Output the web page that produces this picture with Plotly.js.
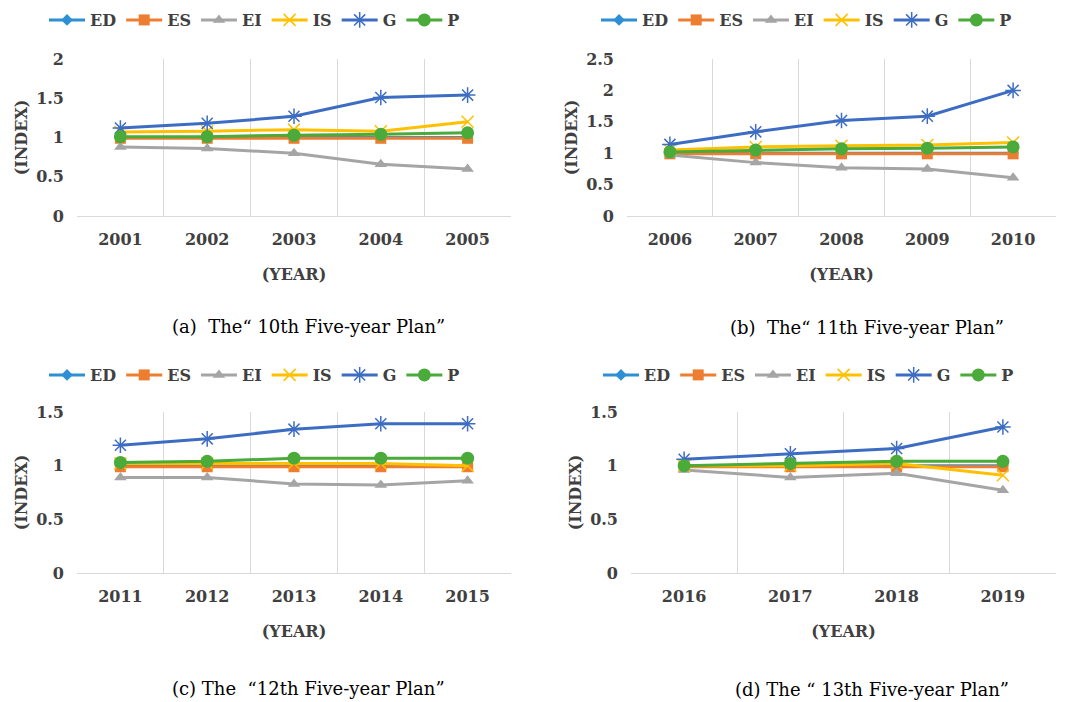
<!DOCTYPE html>
<html>
<head>
<meta charset="utf-8">
<script src="https://cdn.plot.ly/plotly-3.0.1.min.js"></script>
<style>html,body{margin:0;padding:0;background:#fff;}#chart{width:1067px;height:702px;}</style>
</head>
<body>
<div id="chart"></div>
<script>
// ---- data ----
const seriesNames = ["ED", "ES", "EI", "IS", "G", "P"];

const yearsA = ["2001", "2002", "2003", "2004", "2005"];
const ED_A = [1.0, 1.0, 1.0, 1.0, 1.0];
const ES_A = [0.99, 0.99, 0.99, 0.99, 0.99];
const EI_A = [0.88, 0.86, 0.80, 0.66, 0.60];
const IS_A = [1.07, 1.08, 1.10, 1.08, 1.20];
const G_A  = [1.12, 1.18, 1.27, 1.51, 1.54];
const P_A  = [1.01, 1.01, 1.03, 1.04, 1.06];

const yearsB = ["2006", "2007", "2008", "2009", "2010"];
const ED_B = [1.0, 1.0, 1.0, 1.0, 1.0];
const ES_B = [0.99, 0.99, 0.99, 0.99, 0.99];
const EI_B = [0.97, 0.85, 0.77, 0.75, 0.61];
const IS_B = [1.05, 1.10, 1.12, 1.13, 1.17];
const G_B  = [1.14, 1.34, 1.52, 1.59, 2.00];
const P_B  = [1.02, 1.05, 1.07, 1.08, 1.10];

const yearsC = ["2011", "2012", "2013", "2014", "2015"];
const ED_C = [1.0, 1.0, 1.0, 1.0, 1.0];
const ES_C = [0.99, 0.99, 0.99, 0.99, 0.99];
const EI_C = [0.89, 0.89, 0.83, 0.82, 0.86];
const IS_C = [1.02, 1.02, 1.02, 1.02, 1.00];
const G_C  = [1.19, 1.25, 1.34, 1.39, 1.39];
const P_C  = [1.03, 1.04, 1.07, 1.07, 1.07];

const yearsD = ["2016", "2017", "2018", "2019"];
const ED_D = [1.0, 1.0, 1.0, 1.0];
const ES_D = [0.99, 0.99, 0.99, 0.99];
const EI_D = [0.96, 0.89, 0.93, 0.77];
const IS_D = [1.00, 1.00, 1.02, 0.91];
const G_D  = [1.06, 1.11, 1.16, 1.36];
const P_D  = [1.00, 1.02, 1.04, 1.04];

const captions = [
  "(a)  The\u201C 10th Five-year Plan\u201D",
  "(b)  The\u201C 11th Five-year Plan\u201D",
  "(c) The  \u201C12th Five-year Plan\u201D",
  "(d) The \u201C 13th Five-year Plan\u201D"
];
const yMax = [2, 2.5, 1.5, 1.5];

// ---- styles ----
const colors = {ED: "#2E90D3", ES: "#ED7D31", EI: "#A5A5A5", IS: "#FFC000", G: "#3D6DC2", P: "#4AAA3A"};
const symbols = {ED: "diamond", ES: "square", EI: "triangle-up", IS: "x-thin-open", G: "asterisk-open", P: "circle"};
const msize = {ED: 9, ES: 11, EI: 11, IS: 12, G: 13, P: 13};

const panels = [
  {years: yearsA, vals: [ED_A, ES_A, EI_A, IS_A, G_A, P_A]},
  {years: yearsB, vals: [ED_B, ES_B, EI_B, IS_B, G_B, P_B]},
  {years: yearsC, vals: [ED_C, ES_C, EI_C, IS_C, G_C, P_C]},
  {years: yearsD, vals: [ED_D, ES_D, EI_D, IS_D, G_D, P_D]}
];

const W = 1067, H = 702;
const boxes = [
  [77, 511, 59, 216],
  [627, 1056, 59, 216],
  [77, 511, 412, 573],
  [631, 1056, 412, 573]
];
const legendPos = [[44, 20], [596, 20], [44, 375], [598, 375]];
const captionPos = [[308, 326], [867, 327], [308, 688], [872, 689]];

const serif = "DejaVu Serif";
const labelFont = {family: serif, size: 16, color: "#404040", weight: "bold"};

const traces = [];
const layout = {
  width: W, height: H,
  margin: {l: 0, r: 0, t: 0, b: 0},
  paper_bgcolor: "#fff", plot_bgcolor: "#fff",
  showlegend: true,
  font: {family: serif},
  annotations: []
};

panels.forEach((p, i) => {
  const n = i + 1;
  const xa = n === 1 ? "x" : "x" + n;
  const ya = n === 1 ? "y" : "y" + n;
  const lg = n === 1 ? "legend" : "legend" + n;
  seriesNames.forEach((s, k) => {
    traces.push({
      type: "scatter", mode: "lines+markers",
      name: s, x: p.years, y: p.vals[k],
      xaxis: xa, yaxis: ya, legend: lg,
      line: {color: colors[s], width: 3},
      marker: {symbol: symbols[s], size: msize[s], color: colors[s],
               line: {color: colors[s], width: (s === "IS" || s === "G") ? 1.5 : 0}},
      cliponaxis: false
    });
  });
  const b = boxes[i];
  layout["xaxis" + (n === 1 ? "" : n)] = {
    domain: [b[0] / W, b[1] / W],
    anchor: ya,
    type: "category",
    range: [-0.5, p.years.length - 0.5],
    tickson: "boundaries",
    showgrid: true, gridcolor: "#D9D9D9", gridwidth: 1,
    showline: true, linecolor: "#D9D9D9", linewidth: 1,
    ticks: "", ticklabelstandoff: 9,
    tickfont: labelFont,
    zeroline: false, fixedrange: true,
    title: {text: "(YEAR)", font: labelFont, standoff: 20}
  };
  layout["yaxis" + (n === 1 ? "" : n)] = {
    domain: [1 - b[3] / H, 1 - b[2] / H],
    anchor: xa,
    range: [0, yMax[i]],
    dtick: 0.5, tick0: 0,
    showgrid: false, zeroline: false, showline: false,
    ticks: "", ticklabelstandoff: 12,
    tickfont: labelFont,
    fixedrange: true,
    title: {text: "(INDEX)", font: labelFont, standoff: 4}
  };
  layout[lg] = {
    orientation: "h",
    x: legendPos[i][0] / W, y: 1 - legendPos[i][1] / H,
    xanchor: "left", yanchor: "middle",
    font: labelFont,
    itemwidth: 36,
    tracegroupgap: 0,
    bgcolor: "rgba(0,0,0,0)"
  };
  layout.annotations.push({
    text: captions[i], xref: "paper", yref: "paper",
    x: captionPos[i][0] / W, y: 1 - captionPos[i][1] / H,
    xanchor: "center", yanchor: "middle", showarrow: false,
    font: {family: serif, size: 18, color: "#000"}
  });
});

Plotly.newPlot("chart", traces, layout, {staticPlot: true, displayModeBar: false});
</script>
</body>
</html>
